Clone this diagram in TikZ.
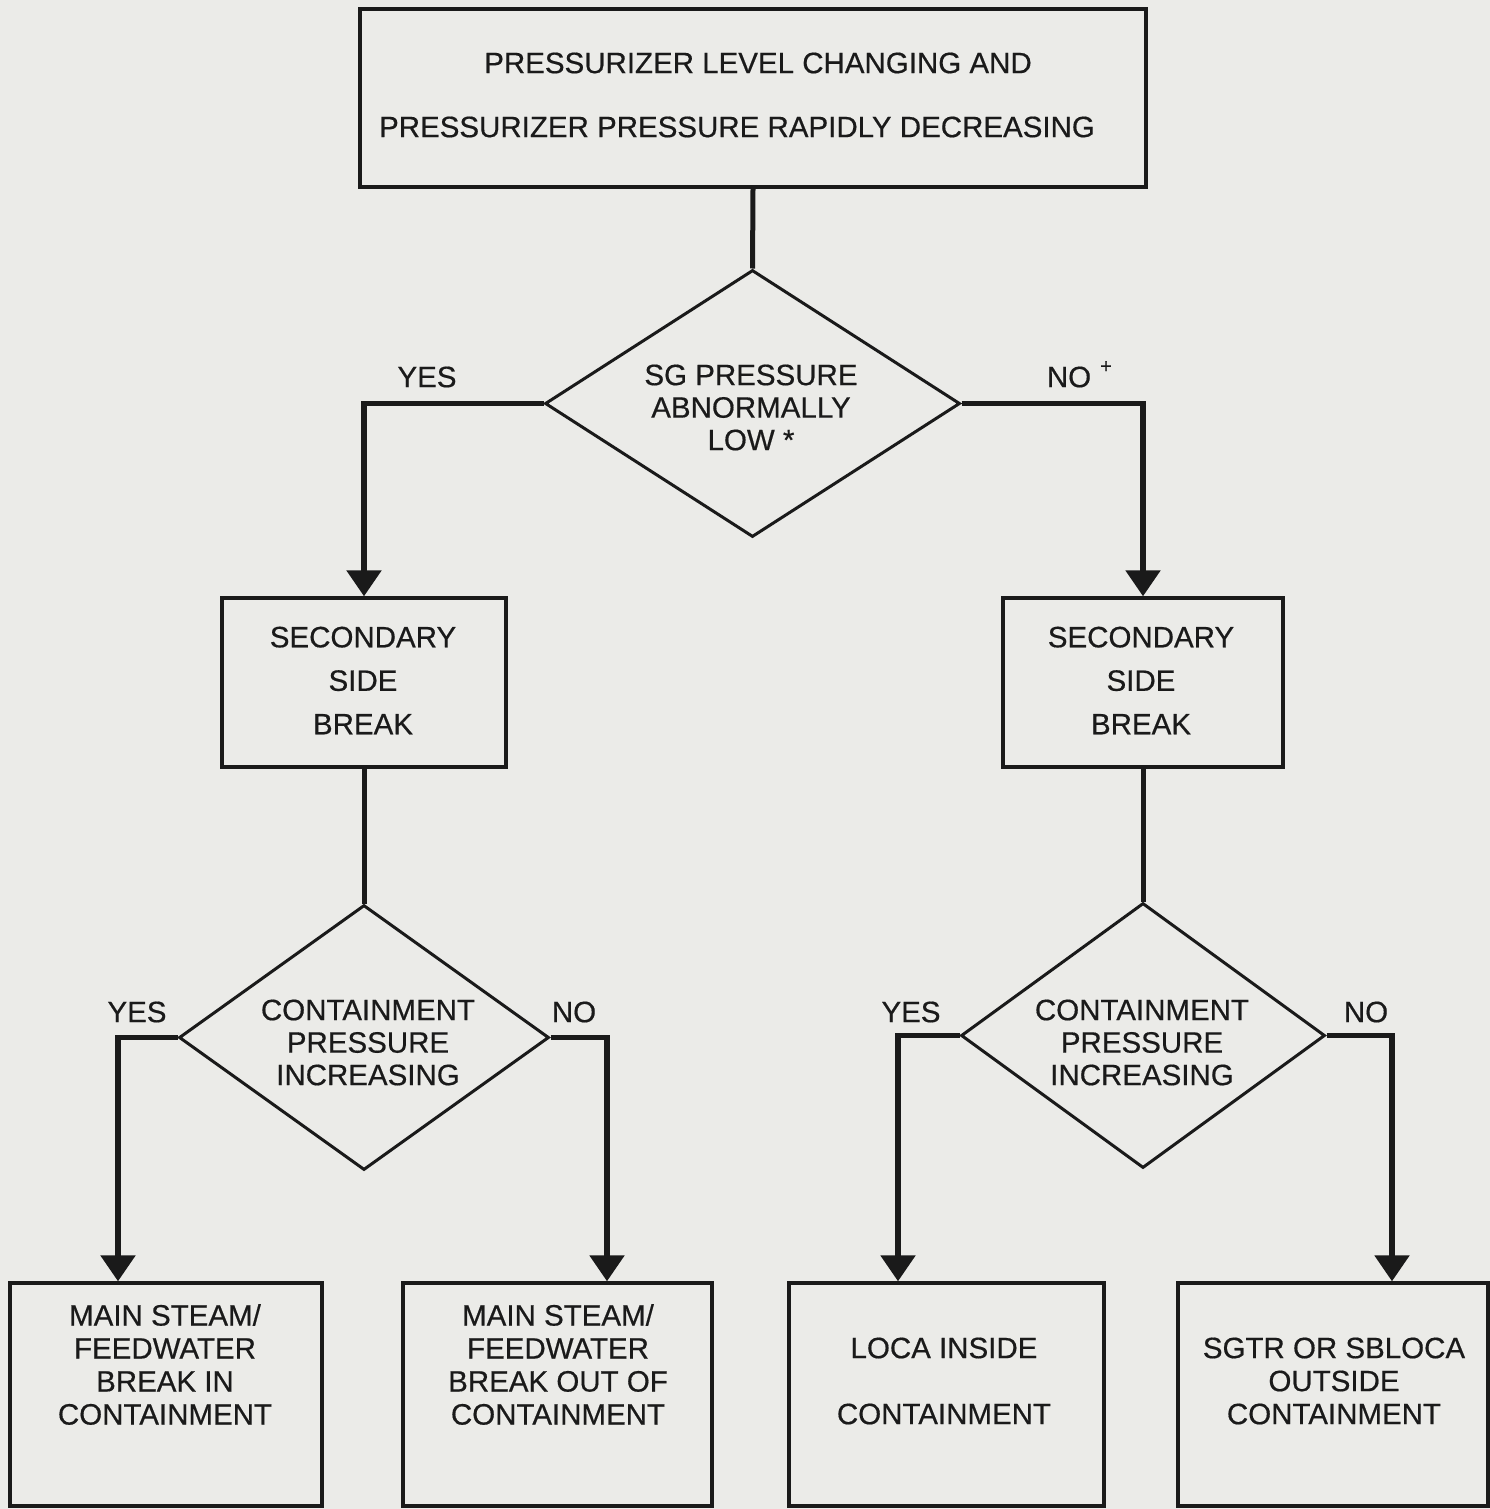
\documentclass[tikz,border=0pt]{standalone}
\usepackage{fontspec}
\setmainfont[FakeBold=0.5]{Liberation Sans}
\usetikzlibrary{shapes.geometric,arrows.meta}
\definecolor{paper}{HTML}{EBEBE8}
\definecolor{ink}{HTML}{1A1A1A}
\begin{document}
\begin{tikzpicture}[x=1pt,y=-1pt,
  box/.style 2 args={draw=ink,line width=3.4pt,inner sep=0pt,
    minimum width=#1,minimum height=#2},
  dia/.style 2 args={diamond,draw=ink,line width=3pt,inner sep=0pt,
    minimum width=#1,minimum height=#2},
  txt/.style={text=ink,inner sep=0pt,align=center,
    font=\fontsize{29.5}{32.5}\selectfont},
  wide/.style={font=\fontsize{29.5}{#1}\selectfont},
  link/.style={draw=ink,line width=5pt},
  flow/.style={draw=ink,line width=5.5pt,line join=miter,
    -{Triangle[length=26pt,width=34pt]}}
]
% page
\useasboundingbox[fill=paper] (0,0) rectangle (1490,1509);

% boxes and decisions
\node[box={786}{178}] (top) at (753,98) {};
\node[txt] (topa) at (758,63) {PRESSURIZER LEVEL CHANGING AND};
\node[txt] (topb) at (737,127) {PRESSURIZER PRESSURE RAPIDLY DECREASING};

\node[dia={415}{267}] (sg) at (752.5,403.5) {};
\node[txt] (sgt) at (751,407.5) {SG PRESSURE\\ABNORMALLY\\LOW *};

\node[box={284}{169}] (secl) at (364,682.5) {};
\node[txt,wide=43.5] (seclt) at (363,680.5) {SECONDARY\\SIDE\\BREAK};
\node[box={280}{169}] (secr) at (1143,682.5) {};
\node[txt,wide=43.5] (secrt) at (1141,680.5) {SECONDARY\\SIDE\\BREAK};

\node[dia={370}{265}] (cpl) at (364,1037.5) {};
\node[txt] (cplt) at (368,1042.5) {CONTAINMENT\\PRESSURE\\INCREASING};
\node[dia={364}{265}] (cpr) at (1143,1035.5) {};
\node[txt] (cprt) at (1142,1042.5) {CONTAINMENT\\PRESSURE\\INCREASING};

\node[box={312}{223}] (r1) at (166,1394.5) {};
\node[txt,wide=33] (r1t) at (165,1364.5) {MAIN STEAM/\\FEEDWATER\\BREAK IN\\CONTAINMENT};
\node[box={309}{223}] (r2) at (557.5,1394.5) {};
\node[txt,wide=33] (r2t) at (558,1364.5) {MAIN STEAM/\\FEEDWATER\\BREAK OUT OF\\CONTAINMENT};
\node[box={315}{223}] (r3) at (946.5,1394.5) {};
\node[txt,wide=66] (r3t) at (944,1381) {LOCA INSIDE\\CONTAINMENT};
\node[box={310}{223}] (r4) at (1333,1394.5) {};
\node[txt,wide=33] (r4t) at (1334,1381) {SGTR OR SBLOCA\\OUTSIDE\\CONTAINMENT};

% branch labels
\node[txt] (y1) at (427,377) {YES};
\node[txt] (n1) at (1069,377) {NO};
\node[txt,font=\fontsize{20}{20}\selectfont] (n1p) at (1106,367) {+};
\node[txt] (y2) at (137,1012) {YES};
\node[txt] (n2) at (574,1012) {NO};
\node[txt] (y3) at (911,1012) {YES};
\node[txt] (n3) at (1366,1012) {NO};

% connectors
\draw[link] (top.south) -- (sg.north);
\draw[flow] (sg.west) -| (secl.north);
\draw[flow] (sg.east) -| (secr.north);
\draw[link] (secl.south) -- (cpl.north);
\draw[link] (secr.south) -- (cpr.north);
\draw[flow] (cpl.west) -| ([xshift=-48pt]r1.north);
\draw[flow] (cpl.east) -| ([xshift=49.5pt]r2.north);
\draw[flow] (cpr.west) -| ([xshift=-48.5pt]r3.north);
\draw[flow] (cpr.east) -| ([xshift=59pt]r4.north);
\end{tikzpicture}
\end{document}
